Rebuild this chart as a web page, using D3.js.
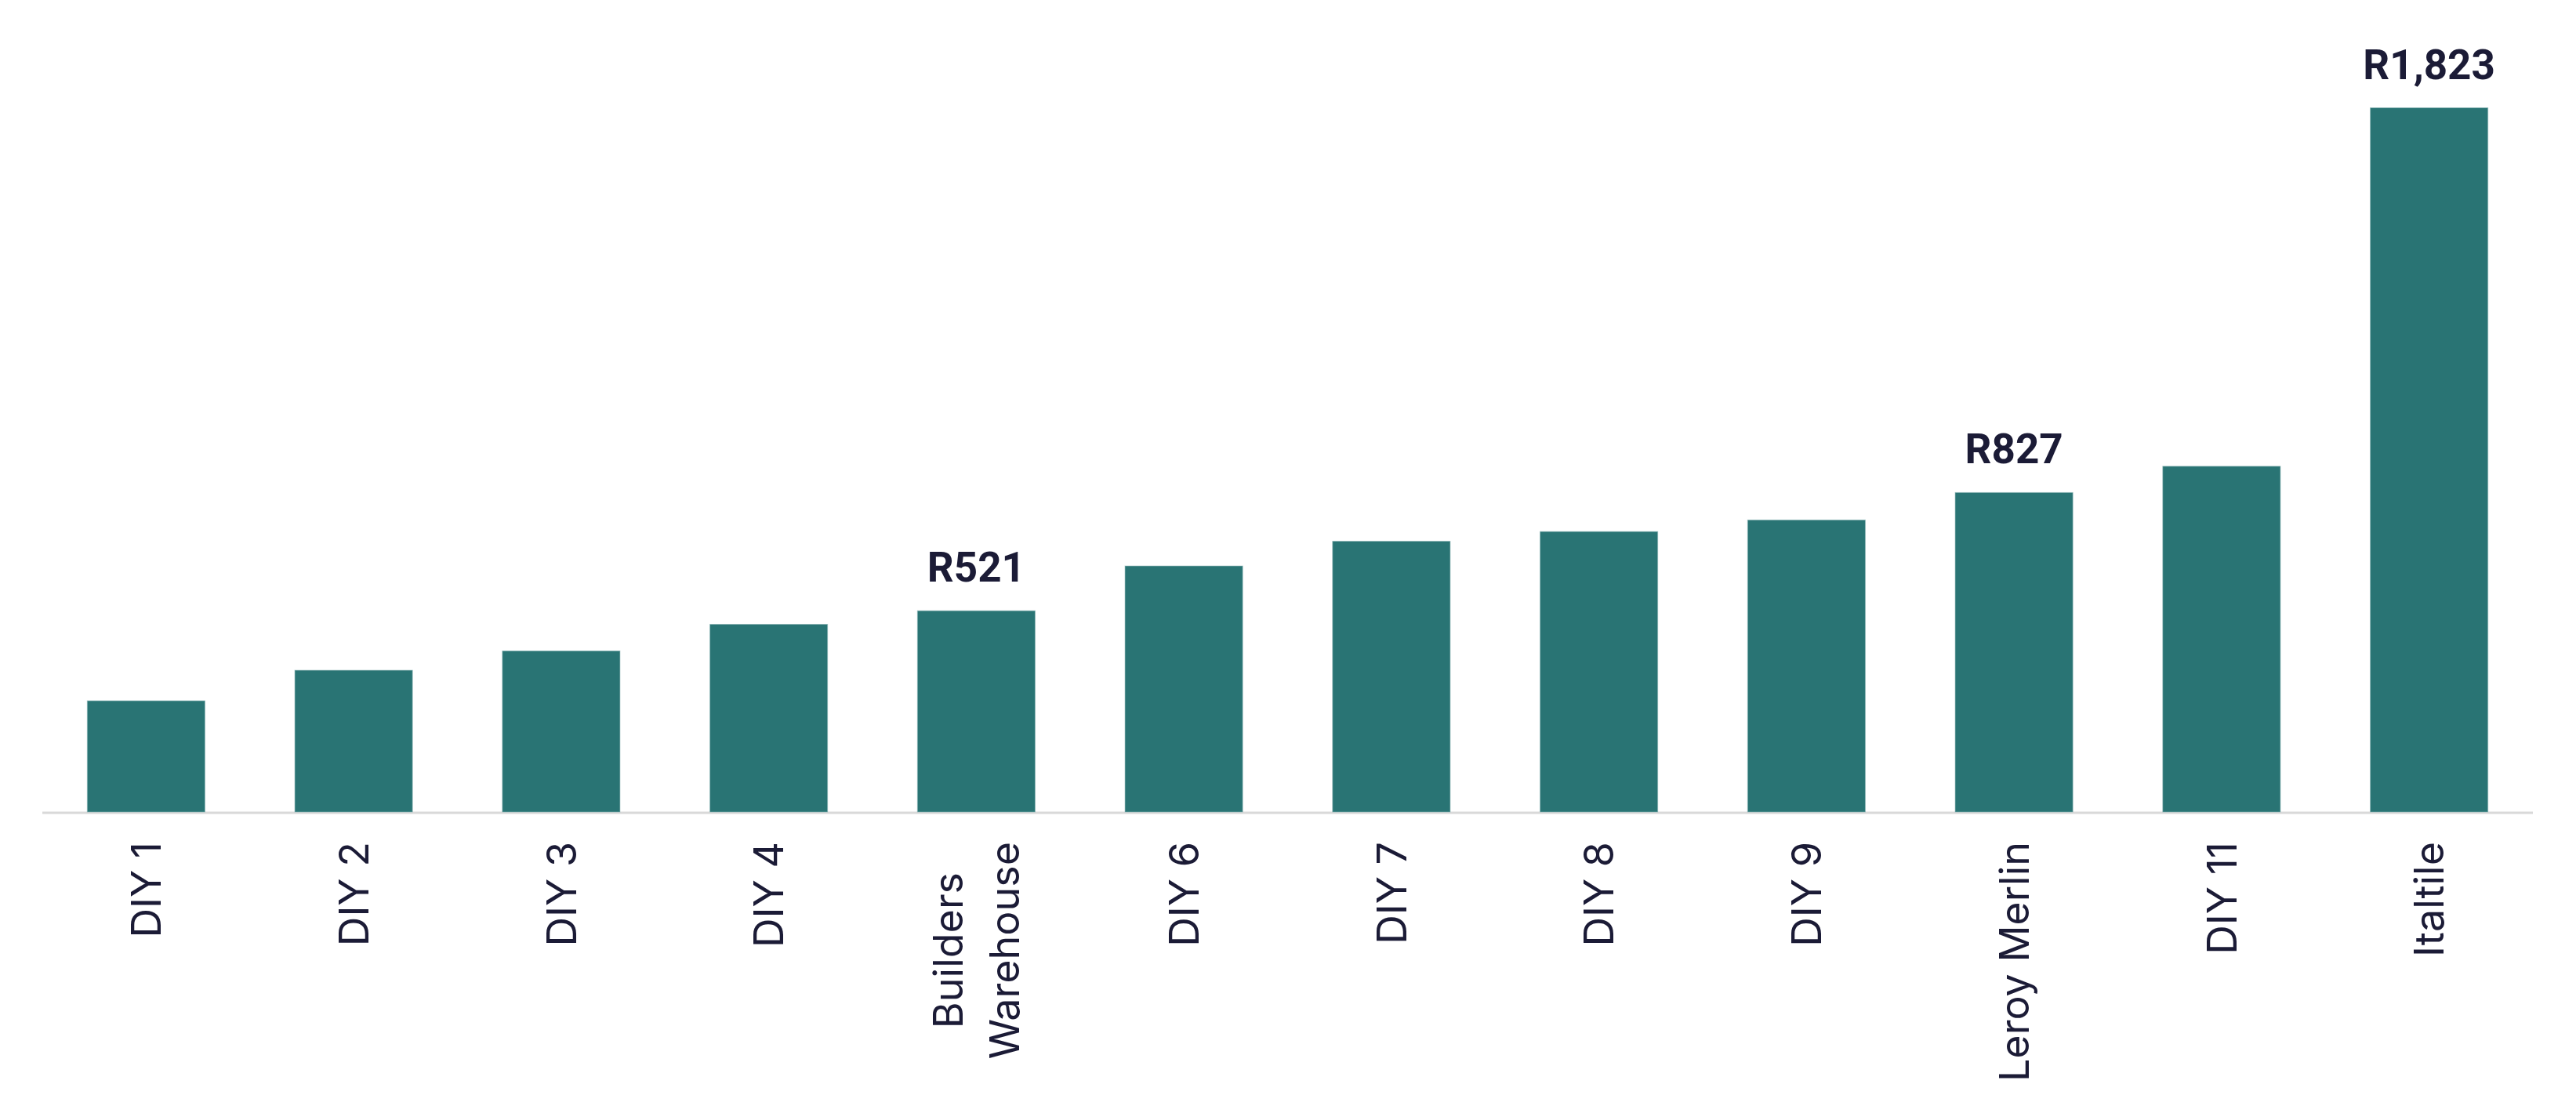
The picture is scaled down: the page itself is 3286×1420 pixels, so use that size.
<!DOCTYPE html>
<html>
<head>
<meta charset="utf-8">
<script src="https://cdn.jsdelivr.net/npm/d3@7"></script>
<style>
  html, body { margin: 0; padding: 0; background: #fff; }
  svg { display: block; }
</style>
</head>
<body>
<div id="chart"></div>
<script>
// categories, one label line per entry
var categories = [
  ["DIY 1"], ["DIY 2"], ["DIY 3"], ["DIY 4"], ["Builders", "Warehouse"],
  ["DIY 6"], ["DIY 7"], ["DIY 8"], ["DIY 9"], ["Leroy Merlin"], ["DIY 11"], ["Italtile"]
];
var values = [288, 367, 417, 486, 521, 637, 701, 726, 756, 827, 895, 1823];
// which bars carry a value label
var labelled = [4, 9, 11];

var W = 3286, H = 1420;
var cfg = {
  left: 54, right: 3231,
  base: 1036, top: 137.5,
  barColor: "#297474",
  textColor: "#1b1b36",
  axisColor: "#d9d9d9",
  catFont: "Inter, Roboto, sans-serif",
  valFont: "Roboto, 'Liberation Sans', sans-serif"
};

var svg = d3.select("#chart").append("svg").attr("width", W).attr("height", H);

var keys = categories.map(function(c){ return c.join(" "); });

var x = d3.scaleBand().domain(keys).range([cfg.left, cfg.right])
  .paddingInner(0.433).paddingOuter(0.2165);
var y = d3.scaleLinear().domain([0, d3.max(values)]).range([cfg.base, cfg.top]);

// baseline
svg.append("line")
  .attr("x1", cfg.left).attr("x2", cfg.right)
  .attr("y1", cfg.base + 1).attr("y2", cfg.base + 1)
  .style("stroke", cfg.axisColor).style("stroke-width", 3);

// bars
svg.selectAll(".bar").data(values).enter().append("rect")
  .attr("class", "bar")
  .attr("x", function(d, i){ return x(keys[i]); })
  .attr("width", x.bandwidth())
  .attr("y", function(d){ return y(d); })
  .attr("height", function(d){ return y(0) - y(d); })
  .style("fill", cfg.barColor)
  .style("stroke", "#8db8b8").style("stroke-width", 1).style("stroke-opacity", 0.6);

// value labels on a few bars
var fmt = d3.format(",");
svg.selectAll(".val").data(labelled).enter().append("text")
  .attr("class", "val")
  .attr("x", function(i){ return x(keys[i]) + x.bandwidth()/2; })
  .attr("y", function(i){ return y(values[i]) - 37; })
  .attr("text-anchor", "middle")
  .style("font-family", cfg.valFont).style("font-weight", 700)
  .style("font-size", "53px").style("fill", cfg.textColor)
  .text(function(i){ return "R" + fmt(values[i]); });

// rotated category labels; multi-line labels centred on their longest line
var fs = 52, lineH = 72, labelTop = 1074;
var lab = svg.selectAll(".cat").data(categories).enter().append("g")
  .attr("class", "cat")
  .attr("transform", function(d, i){
    var cx = x(keys[i]) + x.bandwidth()/2;
    return "translate(" + cx + "," + labelTop + ") rotate(-90)";
  });

lab.each(function(lines){
  var g = d3.select(this);
  var n = lines.length;
  var t = g.selectAll("text").data(lines).enter().append("text")
    .style("font-family", cfg.catFont).style("font-size", fs + "px")
    .style("fill", cfg.textColor)
    .attr("dy", "0.36em")
    .attr("y", function(d, k){ return (k - (n - 1)/2) * lineH; })
    .text(function(d){ return d; });
  var maxLen = 0;
  t.each(function(){ maxLen = Math.max(maxLen, this.getComputedTextLength()); });
  t.attr("text-anchor", "middle").attr("x", -maxLen/2);
});
</script>
</body>
</html>
